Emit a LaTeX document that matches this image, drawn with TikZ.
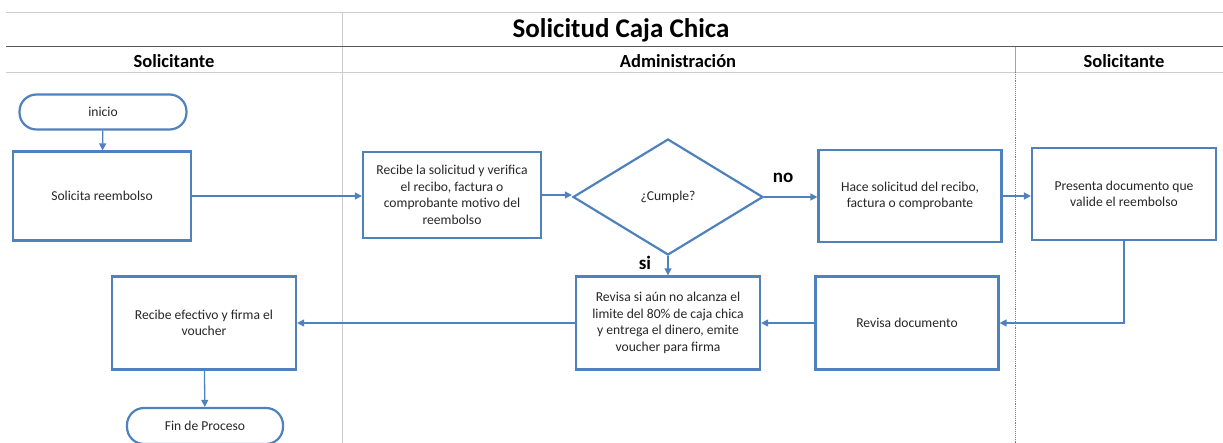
\documentclass[tikz,border=0pt]{standalone}
\usepackage{fontspec}
\setmainfont{Carlito}
\usepackage{tikz}
\usetikzlibrary{calc}
\usetikzlibrary{arrows.meta,shapes.geometric}
\usetikzlibrary{positioning}
\definecolor{flowblue}{RGB}{79,129,189}
\definecolor{lanegray}{RGB}{205,205,205}
\definecolor{rulegray}{RGB}{90,90,90}
\tikzstyle{proc}=[draw=flowblue,line width=2.2pt,rectangle,align=center,
                inner sep=2pt,text=black!85,font=\fontsize{13.6}{16.6}\selectfont]
\tikzstyle{term}=[proc,rounded corners=17pt]
\tikzstyle{dec}=[draw=flowblue,line width=2.2pt,diamond,aspect=1.65,inner sep=0pt,
                minimum width=190pt,minimum height=116pt,text=black!85,
                font=\fontsize{13.6}{16.6}\selectfont]
\tikzstyle{flow}=[draw=flowblue,line width=1.3pt,-{Triangle[length=7pt,width=7pt]}]
\tikzstyle{lane}=[draw=lanegray,line width=0.9pt]
\tikzstyle{lanehead}=[font=\fontsize{18.5}{20}\selectfont\bfseries]
\tikzstyle{answer}=[font=\fontsize{19}{20}\selectfont\bfseries]

\begin{document}
\begin{tikzpicture}[x=1pt,y=-1pt]
\useasboundingbox (0,0) rectangle (1223,443);
% swimlanes
\draw[lane] (6,12) -- (1223,12);
\draw[lane] (6,72) -- (1223,72);
\draw[lane] (342,12) -- (342,443);
\draw[lane,draw=lanegray!80!black] (1015,47) -- (1015,72);
\draw[lane,draw=lanegray!60!black,densely dotted] (1015,72) -- (1015,443);
\draw[draw=rulegray,line width=1pt] (6,47) -- (1223,47);
\node (title) at (621,30) {\fontsize{27}{30}\selectfont\bfseries Solicitud Caja Chica};
\node[lanehead] (solA) at (174,61) {Solicitante};
\node[lanehead] (admin) at (678,61) {Administración};
\node[lanehead] (solB) at (1124,61) {Solicitante};
% steps
\node[term,minimum width=167pt,minimum height=35pt] (inicio) at (103,112) {inicio};
\node[proc,minimum width=178pt,minimum height=89pt] (solicita) at (102,196) {Solicita reembolso};
\node[proc,minimum width=178pt,minimum height=86pt] (recibe) at (452,195)
  {Recibe la solicitud y verifica\\el recibo, factura o\\comprobante motivo del\\reembolso};
\node[dec] (cumple) at (668,197) {¿Cumple?};
\node[proc,minimum width=183pt,minimum height=92pt] (hace) at (910,196)
  {Hace solicitud del recibo,\\factura o comprobante};
\node[proc,minimum width=184pt,minimum height=92pt] (presenta) at (1124,194)
  {Presenta documento que\\valide el reembolso};
\node[proc,minimum width=183pt,minimum height=93pt] (revdoc) at (907,323) {Revisa documento};
\node[proc,minimum width=184pt,minimum height=93pt] (revisa) at (668,323)
  {Revisa si aún no alcanza el\\limite del 80\% de caja chica\\y entrega el dinero, emite\\voucher para firma};
\node[proc,minimum width=184pt,minimum height=93pt] (efectivo) at (204,323)
  {Recibe efectivo y firma el\\voucher};
\node[term,minimum width=156pt,minimum height=36pt] (fin) at (205,426) {Fin de Proceso};
% flow
\draw[flow] (inicio) -- (solicita);
\draw[flow] (solicita.east) -- (solicita.east -| recibe.west);
\draw[flow] (recibe.east) -- (recibe.east -| cumple.west);
\draw[flow] (cumple.east) -- (cumple.east -| hace.west);
\node[answer] (no) at (783,178) {no};
\draw[flow] (hace.east) -- (hace.east -| presenta.west);
\draw[flow] (presenta.south) |- (revdoc.east);
\draw[flow] (revdoc.west) -- (revisa.east);
\draw[flow] (cumple.south) -- (revisa.north);
\node[answer] (si) at (645,263) {si};
\draw[flow] (revisa.west) -- (revisa.west -| efectivo.east);
\draw[flow] (efectivo) -- (fin);
\end{tikzpicture}
\end{document}
